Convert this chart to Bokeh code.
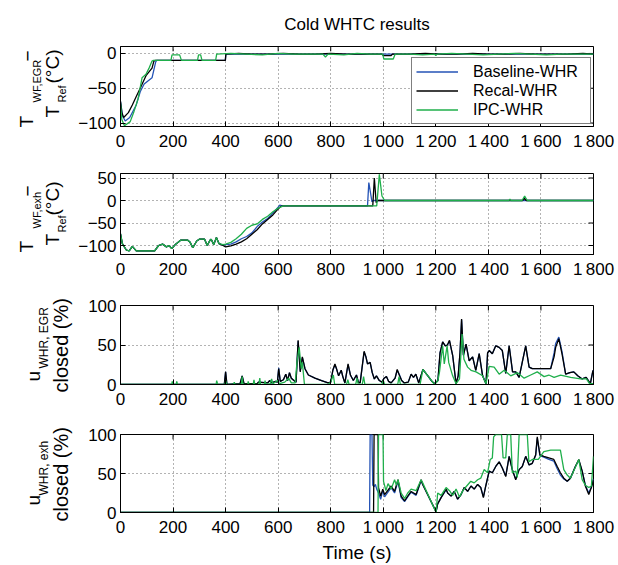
import math
from bokeh.plotting import figure
from bokeh.layouts import column, row
from bokeh.models import Range1d, FixedTicker, Legend, LegendItem
from bokeh.core.properties import value
from bokeh.embed import file_html
from bokeh.resources import INLINE

FONT = "Liberation Sans"
BLUE = "#2453b6"
BLACK = "#000000"
GREEN = "#1faf4b"

title_text = "Cold WHTC results"
x_label = "Time (s)"
series_names = ["Baseline-WHR", "Recal-WHR", "IPC-WHR"]
x_ticks = [0, 200, 400, 600, 800, 1000, 1200, 1400, 1600, 1800]
x_tick_labels = ["0", "200", "400", "600", "800", "1\u2009000", "1\u2009200",
                 "1\u2009400", "1\u2009600", "1\u2009800"]
p1_y_ticks = [-100, -50, 0]
p2_y_ticks = [-100, -50, 0, 50]
p3_y_ticks = [0, 50, 100]
p4_y_ticks = [0, 50, 100]
minus_labels = {-100: "\u2212100", -50: "\u221250"}

# ---- panel 1: T_WF,EGR - T_Ref (deg C)
t1_blue = [0, 8, 18, 35, 60, 75, 90, 120, 134, 138, 399, 401, 500, 700, 900, 1100, 1300, 1500, 1700, 1800]
v1_blue = [-69, -90, -97, -92, -74, -55, -44, -35, -12, -10, -10, -1, -1, -1, -1, -1, -1, -1, -1, -1]
t1_black = [0, 5, 12, 30, 45, 60, 75, 97, 120, 127, 132, 399, 401, 450, 500, 560, 620, 680, 740, 800,
            860, 920, 995, 1000, 1030, 1035, 1100, 1160, 1220, 1280, 1340, 1400, 1460, 1520, 1580, 1640,
            1700, 1760, 1800]
v1_black = [-69, -85, -92, -85, -74, -62, -50, -32, -21, -11, -10, -10, -1, 0, -1, -1, 0, -1, -1, 0,
            -1, -1, -1, -3, -3, -1, -1, 0, -1, -1, 0, -1, -1, 0, -1, -1,
            -1, 0, -1]
t1_green = [0, 5, 15, 37, 50, 67, 82, 97, 110, 120, 125, 192, 196, 225, 232, 293, 297, 305, 310, 362,
            366, 420, 480, 540, 600, 660, 720, 770, 780, 790, 850, 900, 950, 998, 1002, 1038, 1045, 1100,
            1150, 1195, 1200, 1205, 1260, 1320, 1380, 1440, 1500, 1560, 1620, 1680, 1740, 1800]
v1_green = [-72, -95, -104, -98, -85, -65, -35, -30, -20, -11, -10, -10, -2, -2, -10, -10, -2, -2, -10, -10,
            -1, 0, -1, -2, 0, -1, -1, -1, -5, -1, -2, 0, -1, -1, -8, -8, -1, -1,
            -2, -1, -3, -1, 0, -1, -2, -1, 0, -1, -2, -1, -1, -1]

# ---- panel 2: T_WF,exh - T_Ref (deg C)
t2_start = [0, 7, 22, 33, 45, 60, 130, 145, 160, 175, 185, 195, 210, 230, 255, 265, 275, 290, 300, 320,
            330, 340, 345, 355, 365, 375]
v2_start = [-74, -96, -110, -112, -102, -112, -112, -100, -97, -103, -100, -107, -97, -88, -88, -93, -105,
            -90, -86, -86, -100, -89, -86, -98, -82, -96]
t2_blue = [390, 400, 420, 440, 460, 480, 500, 520, 540, 560, 580, 600, 606, 615, 940, 945, 957, 962, 1800]
v2_blue = [-99, -98, -97, -92, -85, -80, -72, -58, -48, -40, -28, -15, -10, -12, -12, 40, -3, 0, 0]
t2_black = [390, 400, 420, 440, 460, 480, 500, 520, 540, 560, 580, 595, 610, 620, 960, 966, 973, 979,
            1530, 1537, 1544, 1800]
v2_black = [-100, -103, -101, -97, -92, -85, -75, -65, -52, -42, -32, -22, -13, -12, -12, 50, -5, 0,
            0, 5, 0, 0]
t2_green = [390, 400, 420, 440, 460, 480, 500, 520, 540, 560, 580, 600, 620, 975, 985, 995, 1005, 1478,
            1482, 1486, 1528, 1538, 1548, 1800]
v2_green = [-98, -97, -93, -85, -75, -62, -55, -52, -42, -35, -25, -17, -12, -12, 58, 10, 0, 0,
            3, 0, 0, 10, 0, 0]

# ---- panel 3: u_WHR,EGR closed (%)  (time, value) pairs
p3_blue = [(0, 0), (395, 0), (400, 16), (405, 0), (455, 1), (463, 11), (470, 1), (520, 1), (525, 3),
           (560, 2), (568, 5), (575, 2), (590, 4), (597, 3), (602, 21), (608, 4), (620, 6), (629, 13),
           (636, 5), (643, 15), (650, 8), (660, 5), (668, 3), (676, 55), (684, 17), (692, 34), (702, 20),
           (715, 12), (740, 8), (765, 5), (790, 2), (800, 3), (808, 18), (816, 25), (822, 20), (830, 11),
           (840, 18), (846, 10), (854, 2), (866, 25), (875, 12), (886, 5), (898, 12), (905, 3), (912, 2),
           (927, 41), (934, 35), (940, 26), (950, 28), (958, 15), (966, 7), (974, 11), (985, 5), (995, 3),
           (1003, 8), (1012, 10), (1020, 4), (1030, 2), (1045, 8), (1053, 18), (1062, 12), (1070, 5),
           (1080, 2), (1095, 3), (1106, 13), (1115, 9), (1124, 13), (1135, 2), (1151, 19), (1160, 15),
           (1172, 10), (1185, 4), (1195, 1), (1208, 5), (1216, 40), (1226, 54), (1236, 49), (1244, 50),
           (1252, 55), (1264, 37), (1277, 1), (1285, 11), (1292, 40), (1298, 82), (1305, 37), (1315, 51),
           (1327, 30), (1340, 35), (1352, 18), (1365, 39), (1378, 11), (1391, 1), (1397, 40), (1403, 43),
           (1415, 39), (1428, 49), (1441, 47), (1453, 43), (1466, 14), (1479, 49), (1492, 16), (1504, 16),
           (1517, 9), (1530, 30), (1542, 49), (1555, 22), (1567, 20), (1600, 20), (1637, 20), (1650, 40),
           (1656, 52), (1668, 60), (1680, 42), (1694, 13), (1710, 15), (1725, 16), (1740, 11), (1757, 7),
           (1772, 9), (1788, 1), (1798, 18)]
p3_black = [(0, 0), (395, 0), (400, 16), (405, 0), (455, 1), (463, 11), (470, 1), (520, 1), (525, 3),
            (560, 2), (568, 5), (575, 2), (590, 4), (597, 3), (602, 20), (608, 4), (620, 6), (629, 13),
            (636, 5), (643, 15), (650, 8), (660, 5), (668, 3), (676, 56), (684, 16), (692, 35), (702, 20),
            (715, 12), (740, 8), (765, 5), (790, 2), (800, 3), (808, 18), (816, 26), (822, 20), (830, 11),
            (840, 18), (846, 10), (854, 2), (866, 26), (875, 12), (886, 5), (898, 12), (905, 3), (912, 2),
            (927, 42), (934, 35), (940, 26), (950, 28), (958, 15), (966, 7), (974, 11), (985, 5), (995, 3),
            (1003, 8), (1012, 10), (1020, 4), (1030, 2), (1045, 8), (1053, 19), (1062, 11), (1070, 5),
            (1080, 2), (1095, 3), (1106, 13), (1115, 9), (1124, 13), (1135, 2), (1151, 19), (1160, 15),
            (1172, 10), (1185, 4), (1195, 1), (1208, 5), (1216, 40), (1226, 54), (1236, 49), (1244, 50),
            (1252, 56), (1264, 37), (1277, 1), (1285, 11), (1292, 40), (1298, 83), (1305, 37), (1315, 51),
            (1327, 30), (1340, 35), (1352, 18), (1365, 39), (1378, 11), (1391, 1), (1397, 40), (1403, 43),
            (1415, 39), (1428, 49), (1441, 47), (1453, 43), (1466, 14), (1479, 49), (1492, 16), (1504, 16),
            (1517, 9), (1530, 30), (1542, 49), (1555, 22), (1567, 20), (1600, 20), (1637, 20), (1650, 35),
            (1656, 47), (1668, 58), (1680, 39), (1694, 13), (1710, 15), (1725, 16), (1740, 11), (1757, 7),
            (1772, 9), (1788, 1), (1798, 18)]
p3_green = [(0, 0), (195, 0), (197, 4), (200, 0), (212, 0), (214, 4), (217, 0), (364, 0), (366, 5), (370, 0),
            (398, 0), (400, 5), (404, 0), (430, 0), (433, 3), (436, 0), (460, 0), (463, 10), (466, 0),
            (484, 0), (486, 4), (489, 0), (505, 0), (508, 6), (511, 0), (527, 0), (530, 8), (533, 0),
            (548, 0), (550, 5), (553, 0), (570, 1), (575, 7), (580, 1), (598, 5), (605, 1), (625, 3),
            (640, 8), (650, 2), (665, 2), (672, 30), (680, 47), (688, 20), (692, 28), (700, 0), (790, 0),
            (800, 3), (810, 12), (815, 0), (860, 0), (865, 6), (870, 0), (895, 0), (900, 8), (905, 0),
            (920, 0), (925, 10), (930, 0), (995, 0), (1000, 5), (1005, 0), (1055, 0), (1060, 10), (1065, 0),
            (1140, 0), (1151, 19), (1172, 10), (1195, 0), (1208, 5), (1214, 16), (1226, 49), (1232, 26),
            (1243, 49), (1249, 28), (1264, 11), (1277, 1), (1290, 7), (1300, 64), (1307, 32), (1321, 22),
            (1334, 18), (1353, 16), (1378, 11), (1391, 1), (1403, 23), (1422, 22), (1441, 13), (1460, 18),
            (1485, 11), (1511, 15), (1536, 8), (1561, 12), (1586, 16), (1612, 10), (1630, 12), (1650, 9),
            (1675, 12), (1713, 9), (1751, 7), (1773, 7), (1785, 1), (1800, 1)]

# ---- panel 4: u_WHR,exh closed (%)  (time, value) pairs
p4_blue = [(0, 0), (948, 0), (950, 100), (957, 100), (960, 35), (965, 33), (970, 36), (975, 30), (982, 25),
           (990, 17), (998, 28), (1005, 20), (1030, 32), (1043, 25), (1056, 40), (1068, 19), (1081, 14),
           (1093, 20), (1106, 26), (1125, 22), (1144, 41), (1150, 36), (1201, 1), (1207, 11), (1220, 19),
           (1239, 29), (1245, 25), (1258, 21), (1270, 27), (1283, 17), (1296, 23), (1308, 32), (1321, 27),
           (1334, 34), (1346, 30), (1359, 36), (1371, 32), (1381, 20), (1390, 34), (1403, 53), (1415, 51),
           (1428, 59), (1441, 65), (1453, 57), (1466, 47), (1479, 72), (1491, 55), (1504, 43), (1517, 55),
           (1529, 59), (1542, 72), (1555, 61), (1567, 63), (1580, 73), (1586, 95), (1596, 73), (1611, 71),
           (1630, 68), (1649, 66), (1662, 56), (1674, 48), (1687, 43), (1700, 40), (1712, 44), (1731, 59),
           (1744, 67), (1757, 53), (1769, 35), (1782, 25), (1792, 33), (1800, 43)]
p4_black = [(0, 0), (963, 0), (965, 100), (980, 100), (982, 32), (990, 21), (998, 30), (1005, 23),
            (1030, 34), (1043, 27), (1056, 42), (1068, 21), (1081, 15), (1093, 21), (1106, 27), (1125, 23),
            (1144, 42), (1150, 36), (1201, 1), (1207, 11), (1220, 19), (1239, 30), (1245, 25), (1258, 21),
            (1270, 27), (1283, 17), (1296, 23), (1308, 32), (1321, 27), (1334, 34), (1346, 30), (1359, 36),
            (1371, 32), (1381, 19), (1390, 34), (1403, 53), (1415, 51), (1428, 59), (1441, 65), (1453, 57),
            (1466, 46), (1479, 72), (1491, 55), (1504, 42), (1517, 55), (1529, 59), (1542, 72), (1555, 61),
            (1567, 63), (1580, 74), (1586, 97), (1596, 74), (1611, 72), (1630, 70), (1649, 68), (1662, 59),
            (1674, 51), (1687, 44), (1700, 40), (1712, 44), (1731, 59), (1744, 68), (1757, 53), (1769, 34),
            (1782, 23), (1792, 32), (1800, 42)]
p4_green = [(0, 0), (980, 0), (982, 100), (999, 100), (1001, 40), (1010, 28), (1018, 37), (1030, 30),
            (1043, 42), (1050, 35), (1056, 42), (1068, 25), (1081, 18), (1093, 25), (1106, 30), (1125, 28),
            (1144, 42), (1150, 38), (1201, 0), (1207, 25), (1220, 22), (1239, 32), (1252, 28), (1264, 22),
            (1277, 30), (1290, 20), (1303, 28), (1315, 33), (1333, 40), (1346, 38), (1359, 42), (1371, 44),
            (1384, 55), (1397, 51), (1407, 68), (1415, 70), (1420, 97), (1428, 100), (1450, 100),
            (1456, 70), (1466, 70), (1472, 100), (1485, 100), (1491, 51), (1504, 53), (1510, 45),
            (1517, 100), (1548, 100), (1554, 65), (1567, 68), (1590, 68), (1611, 78), (1637, 80),
            (1674, 80), (1687, 55), (1700, 48), (1712, 44), (1731, 58), (1744, 68), (1757, 42), (1769, 35),
            (1782, 32), (1792, 34), (1800, 72)]

X_LO, X_HI = 0, 1800
FRAME_W = 475
TICK_PX = 5
LAB_W = 75          # width of the strip that carries the y-axis titles
FRAME_LEFT = 118    # frame left edge on the page
PAGE_H = 565


def make_panel(height, top, bottom, y_lo, y_hi, y_ticks, frame_h, title=None, xlabel=None):
    p = figure(width=618 - LAB_W, height=height, x_range=Range1d(X_LO, X_HI), y_range=Range1d(y_lo, y_hi),
               output_backend="svg", toolbar_location=None, title=title,
               min_border_left=FRAME_LEFT - LAB_W, min_border_right=25,
               min_border_top=top, min_border_bottom=bottom)
    p.background_fill_color = "white"
    p.border_fill_color = "white"
    p.outline_line_color = "black"
    p.outline_line_width = 1
    p.outline_line_alpha = 1
    xa = p.below[0]
    ya = p.left[0]
    xa.ticker = FixedTicker(ticks=x_ticks)
    xa.major_label_overrides = dict(zip(x_ticks, x_tick_labels))
    ya.ticker = FixedTicker(ticks=y_ticks)
    ya.major_label_overrides = {k: v for k, v in minus_labels.items() if k in y_ticks}
    for ax in (xa, ya):
        ax.major_tick_in = TICK_PX
        ax.major_tick_out = 0
        ax.minor_tick_line_color = None
        ax.axis_line_color = "black"
        ax.major_tick_line_color = "black"
        ax.major_label_text_font = FONT
        ax.major_label_text_font_size = "17px"
        ax.major_label_text_color = "black"
    xa.major_label_standoff = 5
    ya.major_label_standoff = 4
    if xlabel:
        xa.axis_label = xlabel
        xa.axis_label_text_font = FONT
        xa.axis_label_text_font_size = "19px"
        xa.axis_label_text_font_style = "normal"
        xa.axis_label_text_color = "black"
        xa.axis_label_standoff = 2
    for g in (p.xgrid, p.ygrid):
        g.grid_line_color = "#555555"
        g.grid_line_dash = "1 3"
        g.grid_line_width = 0.9
    p.xgrid.ticker = FixedTicker(ticks=x_ticks)
    p.ygrid.ticker = FixedTicker(ticks=y_ticks)
    # inward ticks on the top and right edges (matlab box style)
    dy = TICK_PX * (y_hi - y_lo) / frame_h
    dx = TICK_PX * (X_HI - X_LO) / FRAME_W
    p.segment(x0=x_ticks, y0=[y_hi] * len(x_ticks), x1=x_ticks, y1=[y_hi - dy] * len(x_ticks),
              line_color="black", line_width=1)
    p.segment(x0=[X_HI] * len(y_ticks), y0=y_ticks, x1=[X_HI - dx] * len(y_ticks), y1=y_ticks,
              line_color="black", line_width=1)
    return p


def draw(p, tb, vb, tk, vk, tg, vg):
    rb = p.line(list(tb), list(vb), line_color=BLUE, line_width=1.3)
    rk = p.line(list(tk), list(vk), line_color=BLACK, line_width=1.3)
    rg = p.line(list(tg), list(vg), line_color=GREEN, line_width=1.3)
    return rb, rk, rg


def unzip(pairs):
    return [a for a, _ in pairs], [b for _, b in pairs]


# panel 1
p1 = make_panel(158, 43, 32, -105, 10, p1_y_ticks, 83, title=title_text)
p1.title.text_font = FONT
p1.title.text_font_size = "17px"
p1.title.text_font_style = "normal"
p1.title.align = "center"
p1.title.text_color = "black"
p1.title.standoff = 25
r1 = draw(p1, t1_blue, v1_blue, t1_black, v1_black, t1_green, v1_green)
legend = Legend(items=[LegendItem(label=n, renderers=[r]) for n, r in zip(series_names, r1)],
                location="bottom_right", margin=2, padding=4, spacing=0,
                glyph_width=42, glyph_height=19, label_height=19, label_width=113, label_standoff=15,
                label_text_font=FONT, label_text_font_size="16px", label_text_color="black",
                border_line_color="black", border_line_width=1, background_fill_color="white",
                background_fill_alpha=1)
p1.add_layout(legend)

# panel 2
p2 = make_panel(132, 15, 36, -120, 60, p2_y_ticks, 81)
draw(p2, t2_start + t2_blue, v2_start + v2_blue, t2_start + t2_black, v2_start + v2_black,
     t2_start + t2_green, v2_start + v2_green)

# panel 3
p3 = make_panel(130, 15, 36, 0, 100, p3_y_ticks, 79)
draw(p3, *unzip(p3_blue), *unzip(p3_black), *unzip(p3_green))

# panel 4
p4 = make_panel(145, 14, 52, 0, 100, p4_y_ticks, 79, xlabel=x_label)
draw(p4, *unzip(p4_blue), *unzip(p4_black), *unzip(p4_green))

# y-axis titles: one tall strip to the left of the panels
# (text, x offset from frame left, y offset up from that panel's frame bottom, size px, frame bottom on page)
y_title_pieces = [
    ("T", -92, -1, 19, 126), ("WF,EGR", -82, 24, 11, 126),
    ("\u2212", -91, 65, 19, 126), ("T", -66, 9, 19, 126),
    ("Ref", -57, 24, 11, 126), ("(\u00b0C)", -66, 43, 19, 126),
    ("T", -92, 2, 19, 254), ("WF,exh", -82, 26, 11, 254),
    ("\u2212", -91, 58, 19, 254), ("T", -66, 9, 19, 254),
    ("Ref", -57, 22, 11, 254), ("(\u00b0C)", -66, 39, 19, 254),
    ("u", -85, 3, 19, 384), ("WHR, EGR", -75, 16, 12, 384),
    ("closed (%)", -58, -8, 20, 384),
    ("u", -85, 8, 19, 513), ("WHR, exh", -75, 18, 12, 513),
    ("closed (%)", -58, -8, 20, 513),
]
strip = figure(width=LAB_W, height=PAGE_H, x_range=Range1d(0, LAB_W), y_range=Range1d(0, PAGE_H),
               output_backend="svg", toolbar_location=None, title=None,
               x_axis_type=None, y_axis_type=None,
               min_border_left=0, min_border_right=0, min_border_top=0, min_border_bottom=0)
strip.outline_line_color = None
strip.background_fill_color = "white"
strip.border_fill_color = "white"
strip.grid.visible = False
for text, xo, yo, size, fb in y_title_pieces:
    strip.text(x=[FRAME_LEFT + xo], y=[PAGE_H - fb + yo], text=[text], angle=math.pi / 2,
               text_font=value(FONT), text_font_size=value(f"{size}px"),
               text_align="left", text_baseline="alphabetic", text_color="black")

layout = row(strip, column(p1, p2, p3, p4, spacing=0), spacing=0)
open("out.html", "w").write(file_html(layout, INLINE))
